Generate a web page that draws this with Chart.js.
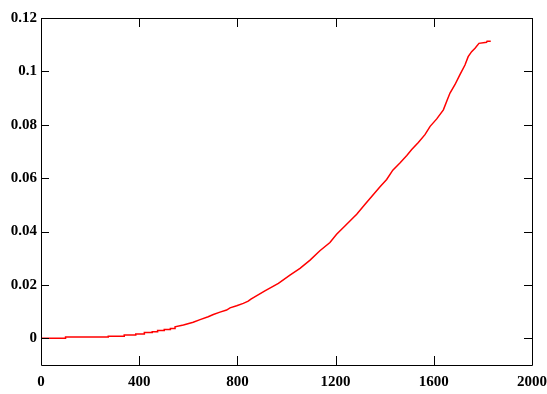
<!DOCTYPE html>
<html>
<head>
<meta charset="utf-8">
<script src="https://cdn.jsdelivr.net/npm/chart.js@4/dist/chart.umd.min.js"></script>
<style>
    html, body { margin: 0; padding: 0; background: #fff; }
    #wrap { width: 547px; height: 394px; }
</style>
</head>
<body>
<div id="wrap"><canvas id="curveChart"></canvas></div>
<script>
// values
const xValues = [0, 100, 100, 274, 274, 339, 339, 386, 386, 421, 421, 453, 453, 475, 475, 502, 502, 527, 527, 546, 546,
    580, 620, 648, 681, 702, 729, 756, 770, 797, 824, 844, 855, 912, 967, 1014, 1055, 1096, 1136, 1177, 1204, 1238,
    1286, 1320, 1354, 1381, 1408, 1433, 1462, 1490, 1510, 1537, 1564, 1585, 1612, 1639, 1655, 1666, 1686, 1706, 1727,
    1740, 1754, 1768, 1784, 1815, 1817, 1832];
const yValues = [0, 0, 0.00045, 0.00045, 0.0008, 0.0008, 0.0012, 0.0012, 0.0016, 0.0016, 0.0022, 0.0022, 0.0025, 0.0025,
    0.0029, 0.0029, 0.0033, 0.0033, 0.0037, 0.0037, 0.0043,
    0.0050, 0.0060, 0.0070, 0.0081, 0.0089, 0.0098, 0.0106, 0.0114, 0.0122, 0.0131, 0.0139, 0.0147, 0.0178, 0.0206,
    0.0237, 0.0262, 0.0293, 0.0328, 0.0359, 0.0390, 0.0421, 0.0465, 0.0502, 0.0539, 0.0568, 0.0595, 0.0630, 0.0657,
    0.0685, 0.0707, 0.0734, 0.0763, 0.0794, 0.0822, 0.0856, 0.0894, 0.0919, 0.0950, 0.0987, 0.1024, 0.1055, 0.1074,
    0.1087, 0.1105, 0.1109, 0.1113, 0.1113];
const xTicks = [0, 400, 800, 1200, 1600, 2000];
const yTicks = [0, 0.02, 0.04, 0.06, 0.08, 0.1, 0.12];

const labelFont = { family: 'Liberation Serif', size: 15, weight: 'bold' };

// box frame + inward tick marks on all four sides
const framePlugin = {
    id: 'frame',
    afterDraw(chart) {
        const { ctx, chartArea } = chart;
        const { left, right, top, bottom } = chartArea;
        const x = chart.scales.x;
        const y = chart.scales.y;
        ctx.save();
        ctx.strokeStyle = '#000';
        ctx.lineWidth = 1;
        ctx.beginPath();
        ctx.rect(Math.round(left) + 0.5, Math.round(top) + 0.5,
            Math.round(right - left), Math.round(bottom - top));
        xTicks.forEach((v) => {
            const px = Math.round(x.getPixelForValue(v)) + 0.5;
            ctx.moveTo(px, bottom);
            ctx.lineTo(px, bottom - 9);
            ctx.moveTo(px, top);
            ctx.lineTo(px, top + 9);
        });
        yTicks.forEach((v) => {
            const py = Math.round(y.getPixelForValue(v)) + 0.5;
            ctx.moveTo(left, py);
            ctx.lineTo(left + 8, py);
            ctx.moveTo(right, py);
            ctx.lineTo(right - 8, py);
        });
        ctx.stroke();
        ctx.restore();
    },
};

new Chart(document.getElementById('curveChart'), {
    type: 'line',
    data: {
        datasets: [{
            data: xValues.map((v, i) => ({ x: v, y: yValues[i] })),
            borderColor: '#ff0000',
            borderWidth: 1.5,
            pointRadius: 0,
            tension: 0,
            fill: false,
        }],
    },
    options: {
        responsive: true,
        maintainAspectRatio: false,
        animation: false,
        layout: { padding: { top: 18, right: 15, left: 0, bottom: 0 } },
        plugins: { legend: { display: false }, tooltip: { enabled: false } },
        scales: {
            x: {
                type: 'linear',
                min: 0,
                max: 2000,
                afterBuildTicks: (axis) => { axis.ticks = xTicks.map((v) => ({ value: v })); },
                afterFit: (axis) => {
                    axis.height = 29;
                    axis.paddingLeft = 0;
                    axis.paddingRight = 0;
                },
                grid: { display: false, drawTicks: false },
                border: { display: false },
                ticks: {
                    color: '#000',
                    font: labelFont,
                    padding: 8,
                    maxRotation: 0,
                    callback: (v) => String(v),
                },
            },
            y: {
                type: 'linear',
                min: -0.01,
                max: 0.12,
                afterBuildTicks: (axis) => { axis.ticks = yTicks.map((v) => ({ value: v })); },
                afterFit: (axis) => {
                    axis.width = 41;
                    axis.paddingTop = 0;
                    axis.paddingBottom = 0;
                },
                grid: { display: false, drawTicks: false },
                border: { display: false },
                ticks: {
                    color: '#000',
                    font: labelFont,
                    padding: 4,
                    callback: (v) => String(+Number(v).toFixed(2)),
                },
            },
        },
    },
    plugins: [framePlugin],
});
</script>
</body>
</html>
